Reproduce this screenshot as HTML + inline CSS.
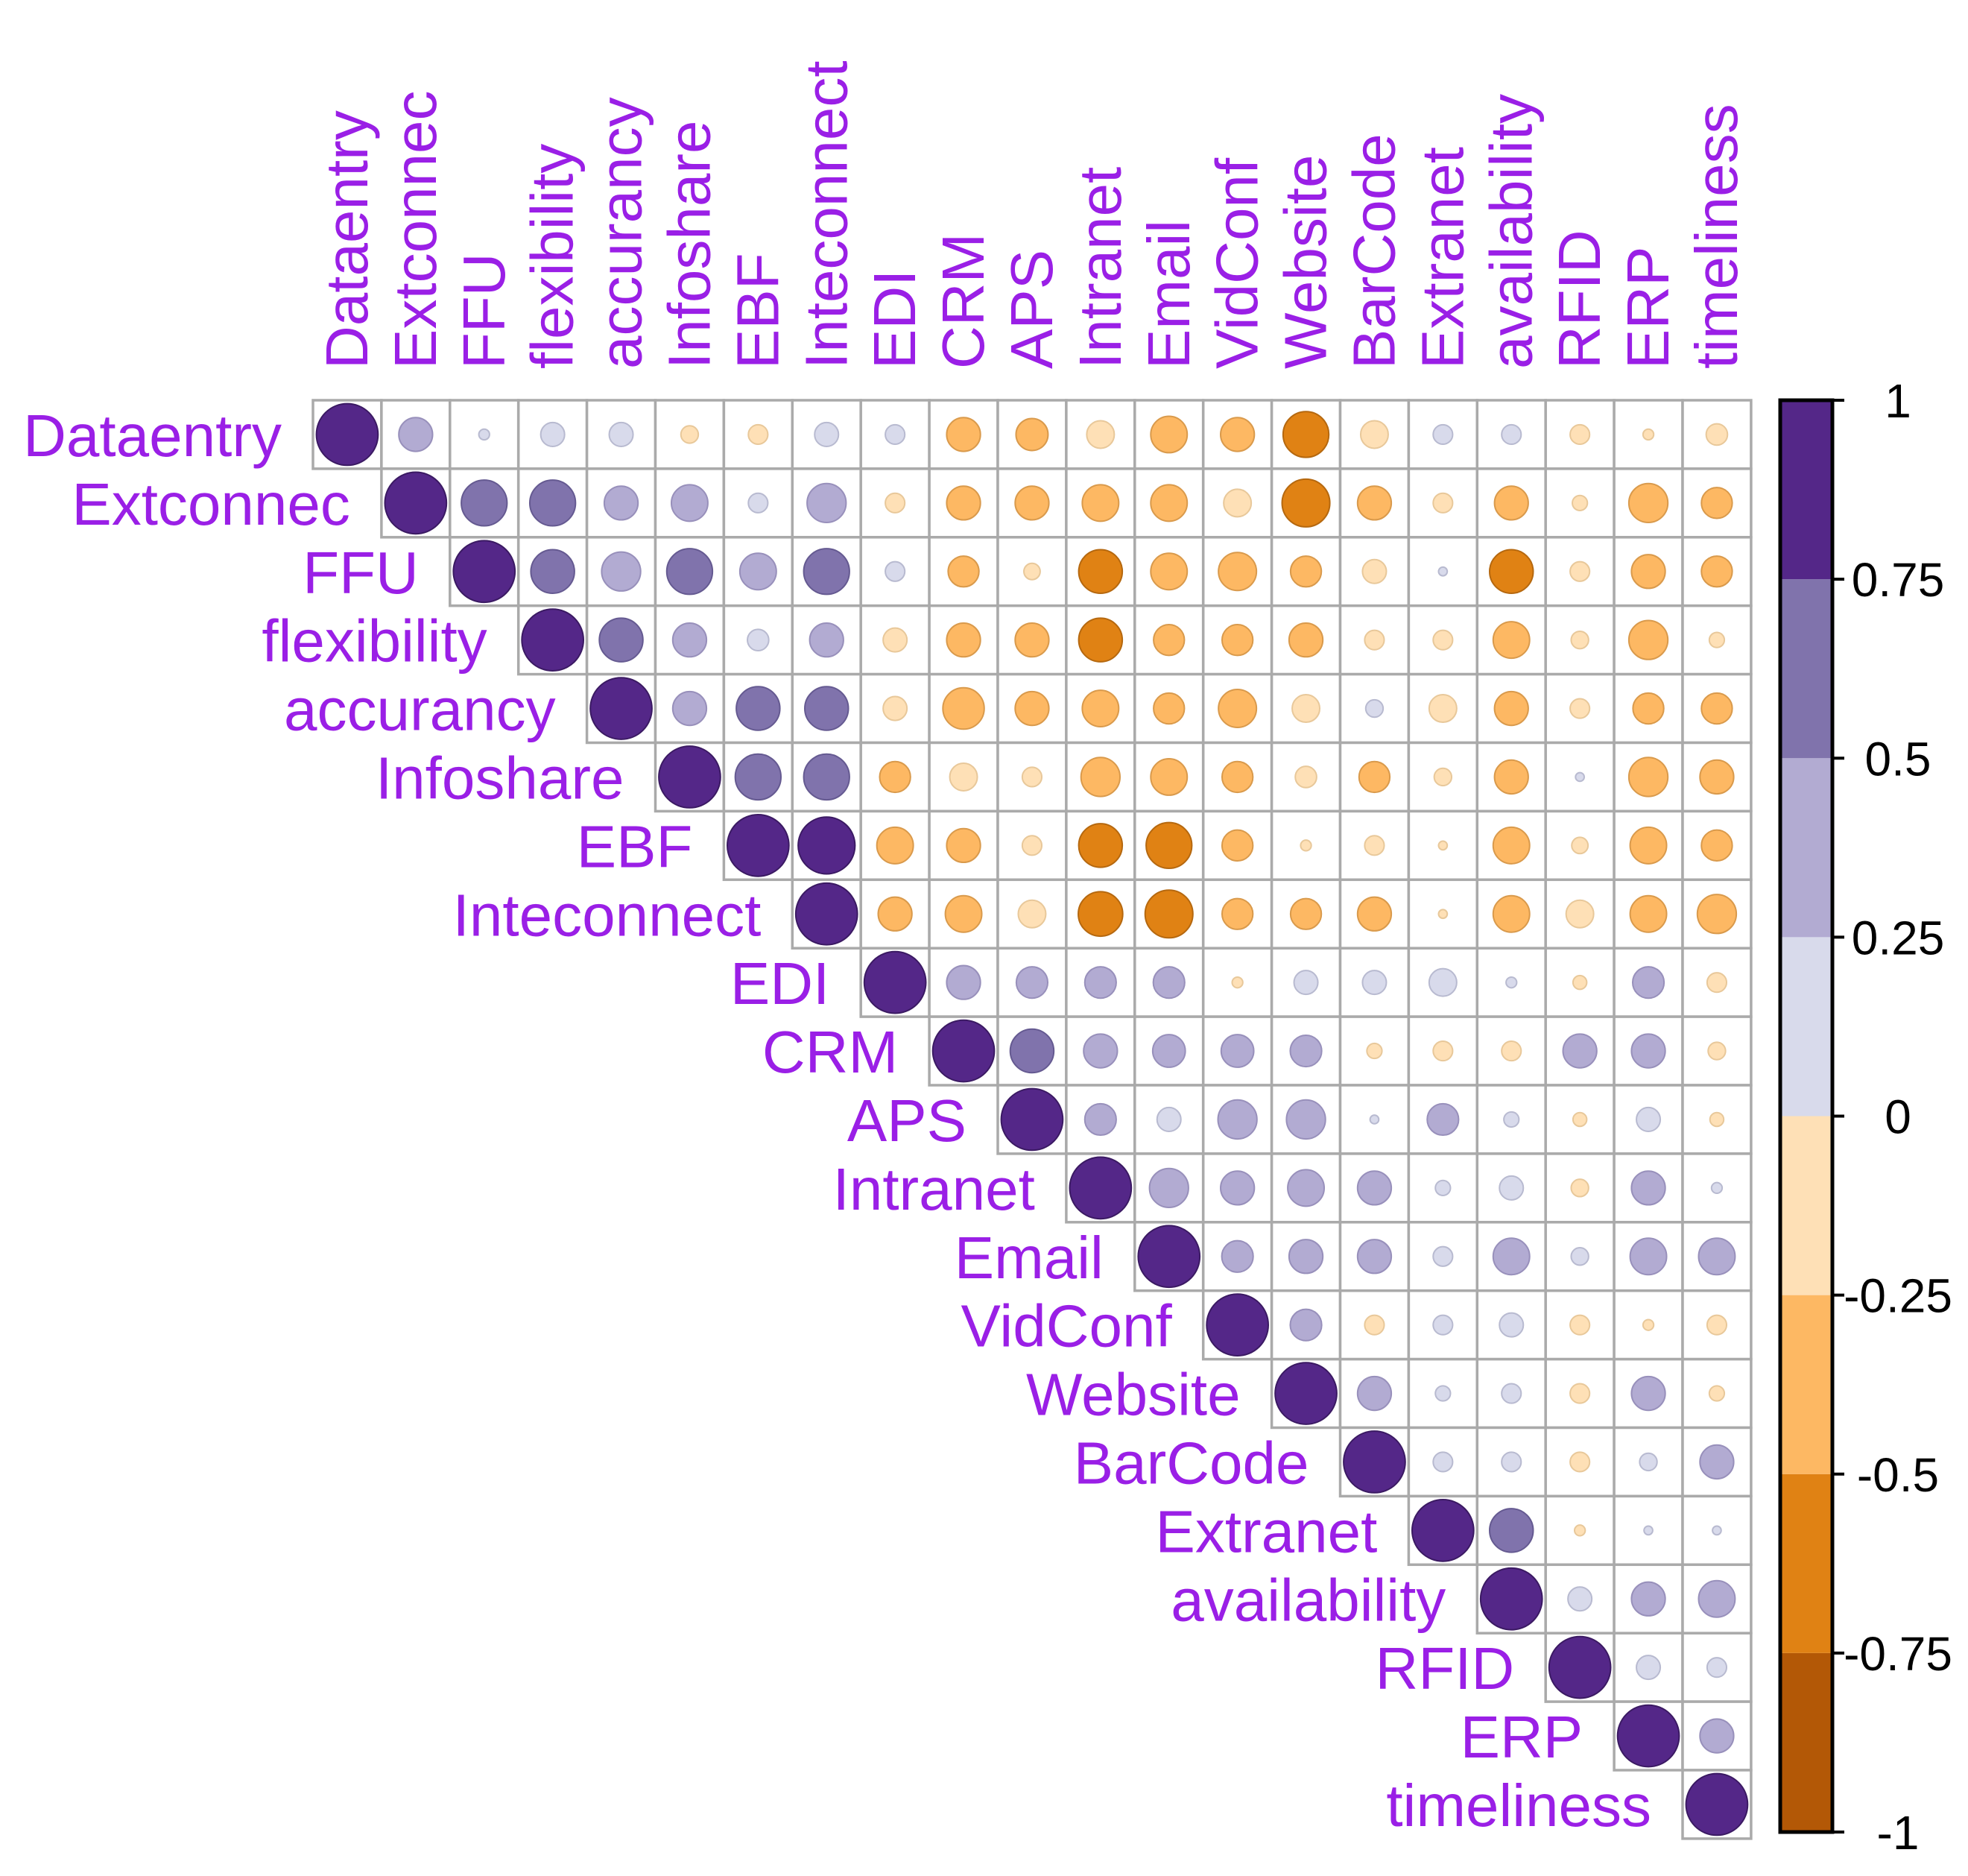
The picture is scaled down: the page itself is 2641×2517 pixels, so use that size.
<!DOCTYPE html>
<html><head><meta charset="utf-8"><style>
html,body{margin:0;padding:0;background:#fff;}
svg{display:block;}
text{font-family:"Liberation Sans",sans-serif;}
</style></head><body>
<svg id="chart" width="2641" height="2517" viewBox="0 0 2641 2517" xmlns="http://www.w3.org/2000/svg"></svg>
<script>
const variables = ["Dataentry","Extconnec","FFU","flexibility","accurancy","Infoshare","EBF","Inteconnect","EDI","CRM","APS","Intranet","Email","VidConf","Website","BarCode","Extranet","availability","RFID","ERP","timeliness"];
// upper-triangle rows: values for columns i+1..20
const row0 = [0.3,0.03,0.15,0.15,-0.08,-0.1,0.15,0.1,-0.3,-0.27,-0.2,-0.35,-0.3,-0.55,-0.2,0.1,0.1,-0.1,-0.03,-0.12];
const row1 = [0.55,0.55,0.3,0.35,0.1,0.4,-0.1,-0.3,-0.3,-0.35,-0.35,-0.2,-0.6,-0.3,-0.1,-0.3,-0.06,-0.4,-0.25];
const row2 = [0.5,0.4,0.55,0.35,0.55,0.1,-0.25,-0.07,-0.5,-0.35,-0.38,-0.25,-0.15,0.02,-0.5,-0.1,-0.3,-0.25];
const row3 = [0.5,0.3,0.12,0.3,-0.15,-0.3,-0.3,-0.5,-0.25,-0.25,-0.3,-0.1,-0.1,-0.35,-0.08,-0.4,-0.06];
const row4 = [0.3,0.5,0.5,-0.15,-0.45,-0.3,-0.35,-0.25,-0.38,-0.2,0.08,-0.2,-0.3,-0.1,-0.25,-0.25];
const row5 = [0.55,0.55,-0.25,-0.2,-0.1,-0.4,-0.35,-0.25,-0.12,-0.25,-0.08,-0.3,0.02,-0.4,-0.3];
const row6 = [0.85,-0.35,-0.3,-0.1,-0.5,-0.55,-0.25,-0.03,-0.1,-0.02,-0.35,-0.07,-0.35,-0.25];
const row7 = [-0.3,-0.35,-0.2,-0.52,-0.6,-0.25,-0.25,-0.3,-0.02,-0.35,-0.2,-0.35,-0.4];
const row8 = [0.3,0.26,0.26,0.26,-0.03,0.15,0.15,0.2,0.03,-0.05,0.26,-0.1];
const row9 = [0.5,0.3,0.28,0.28,0.26,-0.06,-0.1,-0.1,0.3,0.3,-0.08];
const row10 = [0.26,0.15,0.4,0.4,0.02,0.26,0.06,-0.05,0.15,-0.05];
const row11 = [0.4,0.3,0.35,0.3,0.06,0.15,-0.08,0.3,0.03];
const row12 = [0.26,0.3,0.3,0.1,0.35,0.08,0.35,0.35];
const row13 = [0.26,-0.1,0.1,0.15,-0.1,-0.03,-0.1];
const row14 = [0.3,0.06,0.1,-0.1,0.3,-0.06];
const row15 = [0.1,0.1,-0.1,0.08,0.3];
const row16 = [0.5,-0.03,0.02,0.02];
const row17 = [0.15,0.3,0.35];
const row18 = [0.15,0.1];
const row19 = [0.3];
const rows = [row0,row1,row2,row3,row4,row5,row6,row7,row8,row9,row10,row11,row12,row13,row14,row15,row16,row17,row18,row19];
const legendTicks = [1,0.75,0.5,0.25,0,-0.25,-0.5,-0.75,-1];
const legendLabels = ["1","0.75","0.5","0.25","0","-0.25","-0.5","-0.75","-1"];

const NS="http://www.w3.org/2000/svg";
const svg=document.getElementById('chart');
const X0=420, Y0=537, C=91.9, N=variables.length;
const colX=j=>X0+j*C, rowY=i=>Y0+i*C;
const LB_X0=2389, LB_X1=2459, LB_Y0=537, LB_Y1=2458;
const legY=v=>LB_Y0+(1-v)/2*(LB_Y1-LB_Y0);
const palette=["#B35806","#E08214","#FDB863","#FEE0B6","#D8DAEB","#B2ABD2","#8073AC","#542788"];
const dark=["#8a4304","#b5680f","#d99a4c","#e8c89a","#b8bad0","#9890bb","#655a91","#3b1a63"];
function colorIdx(v){
  let k = v<0 ? Math.floor((v+1)/0.25-1e-9) : Math.floor((v+1)/0.25);
  if(k>7)k=7; if(k<0)k=0; return k;
}
function mk(tag,attrs,parent){const e=document.createElementNS(NS,tag);for(const k in attrs)e.setAttribute(k,attrs[k]);(parent||svg).appendChild(e);return e;}

const grid=mk('g',{});


const marks=mk('g',{});



for(let i=0;i<N;i++){
  for(let j=i;j<N;j++){
    const r=mk('rect',{x:colX(j),y:rowY(i),width:C,height:C,fill:'#fff',stroke:'#aaaaaa','stroke-width':3.5},grid);
    
    
  }
}
for(let i=0;i<N;i++){
  for(let j=i;j<N;j++){
    const v = (i===j)?1:rows[i][j-i-1];
    const k=colorIdx(v);
    const rad=0.45*C*Math.sqrt(Math.abs(v));
    const c=mk('circle',{cx:colX(j)+C/2,cy:rowY(i)+C/2,r:Math.max(rad,1.5),fill:palette[k],stroke:dark[k],'stroke-width':2},marks);
    
    
  }
}
// row labels
for(let i=0;i<N;i++){
  const t=mk('text',{x:colX(i)-42,y:rowY(i)+C/2+29,'text-anchor':'end','font-size':80,fill:'#9A1FE6'});
  t.textContent=variables[i];
  
  
}
// column labels
for(let j=0;j<N;j++){
  const cx=colX(j)+C/2+27, by=Y0-42;
  const t=mk('text',{x:cx,y:by,'text-anchor':'start','font-size':80,fill:'#9A1FE6',transform:`rotate(-90 ${cx} ${by})`});
  t.textContent=variables[j];
  
  
}
// legend
const leg=mk('g',{});


for(let k=0;k<8;k++){
  const vTop=-1+(k+1)*0.25, vBot=-1+k*0.25;
  const r=mk('rect',{x:LB_X0,y:legY(vTop),width:LB_X1-LB_X0,height:legY(vBot)-legY(vTop),fill:palette[k]},leg);
  
  
}
const bd=mk('rect',{x:LB_X0,y:LB_Y0,width:LB_X1-LB_X0,height:LB_Y1-LB_Y0,fill:'none',stroke:'#000','stroke-width':5},leg);


legendTicks.forEach((v,idx)=>{
  const y=legY(v);
  const l=mk('line',{x1:LB_X1,x2:LB_X1+16,y1:y,y2:y,stroke:'#000','stroke-width':4},leg);
  
  
  const t=mk('text',{x:2547,y:y+23,'text-anchor':'middle','font-size':64,fill:'#000'},leg);
  t.textContent=legendLabels[idx];
  
  
});
</script>
</body></html>
